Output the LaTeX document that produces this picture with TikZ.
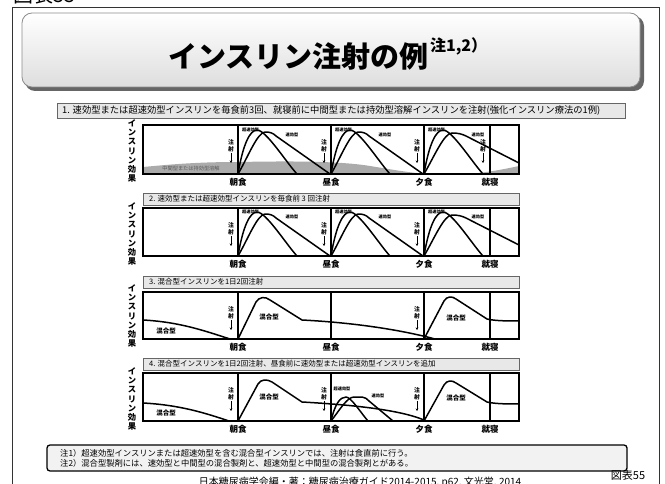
\documentclass[tikz,border=0pt]{standalone}
\usepackage{fontspec}
\setmainfont{Noto Sans CJK JP}
\usetikzlibrary{arrows.meta}
\begin{document}
\begin{tikzpicture}[x=1pt,y=-1pt,
  curve/.style={line width=1.5pt, line join=round, line cap=round},
  mealline/.style={line width=1.5pt},
  bedline/.style={line width=2.8pt},
  graphbox/.style={draw, line width=1.3pt},
  hdrbox/.style={draw=black!60, fill=black!9, line width=0.8pt},
  tinylbl/.style={font=\fontsize{4.2}{5}\selectfont\bfseries, inner sep=0pt},
  injtxt/.style={font=\fontsize{5.8}{6}\selectfont\bfseries, inner sep=0pt},
  mixlbl/.style={font=\fontsize{6.5}{7}\selectfont\bfseries, inner sep=0pt},
  meallbl/.style={font=\fontsize{8.5}{9}\selectfont\bfseries, inner sep=0pt},
  ylbl/.style={font=\fontsize{8.3}{9.2}\selectfont\bfseries, align=center, inner sep=0pt},
  hdrtxt/.style={font=\fontsize{7.5}{8}\selectfont, inner sep=0pt, anchor=west},
]
\useasboundingbox (0,0) rectangle (665,484);

\newcommand\injmark[2]{%
  \node[injtxt] at ({#1},{#2+17}) {注};
  \node[injtxt] at ({#1},{#2+24}) {射};
  \draw[-{Stealth[length=2.5pt,width=2.5pt]}, line width=0.6pt] ({#1},{#2+28}) -- ({#1},{#2+38});
}
\newcommand\ultra[2]{%
  \begin{scope}[shift={(#1,#2)}]
    \draw[curve] (0,0) .. controls (5,-30) and (12,-44) .. (19,-44) .. controls (28,-44) and (48,-12) .. (59,0);
    \node[tinylbl] at (12.5,-44) {超速効型};
    \node[tinylbl] at (54,-39) {速効型};
  \end{scope}}
\newcommand\rapidA[2]{%
  \begin{scope}[shift={(#1,#2)}]
    \draw[curve] (0,0) .. controls (10,-17) and (19,-41) .. (27,-42) .. controls (32,-42) and (35,-41) .. (38,-38) -- (92,0);
  \end{scope}}
\newcommand\rapidE[2]{%
  \begin{scope}[shift={(#1,#2)}]
    \draw[curve] (0,0) .. controls (10,-17) and (20,-41) .. (28,-41) .. controls (34,-41) and (38,-40) .. (42,-38) -- (95,-11);
  \end{scope}}
\newcommand\meals[4]{% top, bottom, unused, label y
  \draw[mealline] (238,#1) -- (238,#2);
  \draw[mealline] (331,#1) -- (331,#2);
  \draw[mealline] (424,#1) -- (424,#2);
  \draw[bedline] (490,#1) -- (490,#2);
  \node[meallbl] (m1) at (238,#4) {朝食};
  \node[meallbl] (m2) at (331,#4) {昼食};
  \node[meallbl] (m3) at (424,#4) {夕食};
  \node[meallbl] (m4) at (490,#4) {就寝};
}
\newcommand\ylabel[2]{\node[ylbl] at (#1,#2) {イ\\ン\\ス\\リ\\ン\\効\\果};}

% top-left cut label
\node[anchor=base west, inner sep=0pt, font=\fontsize{20}{20}\selectfont] (fig0) at (13,3) {図表55};

% outer frame
\draw[line width=1pt, black!80] (12,8) rectangle (659,500);

% title box
\fill[black!60, rounded corners=10pt] (25,16) rectangle (644,91);
\shade[top color=white, bottom color=black!13, draw=black!45, line width=0.8pt, rounded corners=10pt] (22,13) rectangle (640,87);
\node[font=\fontsize{29}{31}\selectfont\bfseries, inner sep=0pt, anchor=west] (title) at (168,56) {インスリン注射の例};
\node[font=\fontsize{16}{17}\selectfont\bfseries, inner sep=0pt, anchor=west] (titlesup) at ([xshift=1pt]title.east|-0,46) {注1,2）};

% ---------------- panel 1
\draw[hdrbox] (57,103) rectangle (625,118);
\node[hdrtxt, font=\fontsize{9.3}{10}\selectfont] (h1) at (62,110.5) {1. 速効型または超速効型インスリンを毎食前3回、就寝前に中間型または持効型溶解インスリンを注射(強化インスリン療法の1例)};
\fill[black!33] (143,174) -- (143,167) .. controls (175,164) and (200,162) .. (238,162) .. controls (290,161) and (340,161) .. (370,166) .. controls (395,170) and (410,173) .. (430,174) -- cycle;
\fill[black!33] (470,174) .. controls (490,172) and (505,169) .. (519,166) -- (519,174) -- cycle;
\node[font=\fontsize{5.2}{6}\selectfont, text=black!65, inner sep=0pt] (basal) at (191,169) {中間型または持効型溶解};
\ultra{238}{174}\rapidA{238}{174}
\ultra{331}{174}\rapidA{331}{174}
\ultra{424}{174}\rapidE{424}{174}
\meals{125}{174}{}{182}
\injmark{231}{125}\injmark{324}{125}\injmark{417}{125}\injmark{483}{125}
\draw[graphbox] (143,125) rectangle (519,174);
\ylabel{132}{151}

% ---------------- panel 2
\draw[hdrbox] (143,193) rectangle (519,205);
\node[hdrtxt] (h2) at (149,199) {2. 速効型または超速効型インスリンを毎食前 3 回注射};
\ultra{238}{256}\rapidA{238}{256}
\ultra{331}{256}\rapidA{331}{256}
\ultra{424}{256}\rapidE{424}{256}
\meals{208}{256}{}{264}
\injmark{231}{208}\injmark{324}{208}\injmark{417}{208}
\draw[graphbox] (143,208) rectangle (519,256);
\ylabel{132}{234}

% ---------------- panel 3
\draw[hdrbox] (143,276) rectangle (519,288);
\node[hdrtxt] (h3) at (149,282) {3. 混合型インスリンを1日2回注射};
\draw[curve] (143,320) .. controls (180,322) and (205,331) .. (230,339);
\draw[curve] (238,339) -- (256,302) .. controls (259,297) and (265,296) .. (270,300) -- (302,320) .. controls (360,323) and (405,331) .. (435,339);
\draw[curve] (424,339) -- (444,301) .. controls (447,296) and (452,296) .. (456,299) -- (487,319) .. controls (495,321) and (510,321) .. (519,321);
\node[mixlbl] at (166,331) {混合型};
\node[mixlbl] at (269,317) {混合型};
\node[mixlbl] at (456,318) {混合型};
\meals{292}{339}{}{347}
\injmark{231}{292}\injmark{417}{292}
\draw[graphbox] (143,292) rectangle (519,339);
\ylabel{132}{316}

% ---------------- panel 4
\draw[hdrbox] (143,358) rectangle (519,370);
\node[hdrtxt] (h4) at (149,364) {4. 混合型インスリンを1日2回注射、昼食前に速効型または超速効型インスリンを追加};
\draw[curve] (143,403) .. controls (180,405) and (205,413) .. (229,421);
\draw[curve] (238,421) -- (258,384) .. controls (261,379) and (267,379) .. (272,382) -- (302,402) .. controls (355,405) and (400,410) .. (424,420);
\draw[curve] (424,421) -- (444,385) .. controls (447,380) and (452,380) .. (456,383) -- (487,402) .. controls (495,404) and (510,404) .. (519,404);
\begin{scope}[shift={(331,421)}]
  \draw[curve] (0,0) .. controls (4,-17) and (9,-24) .. (15,-24) .. controls (20,-24) and (30,-8) .. (37,0);
  \draw[curve] (0,0) .. controls (8,-10) and (16,-24) .. (23,-24) -- (31,-24) .. controls (34,-24) and (36,-22) .. (38,-20) -- (62,0);
\end{scope}
\node[tinylbl] at (342,389) {超速効型};
\node[tinylbl] at (378,396) {速効型};
\node[mixlbl] at (166,413) {混合型};
\node[mixlbl] at (269,397) {混合型};
\node[mixlbl] at (456,398) {混合型};
\meals{373}{421}{}{429}
\injmark{231}{373}\injmark{324}{373}\injmark{417}{373}
\draw[graphbox] (143,373) rectangle (519,421);
\ylabel{132}{399}

% ---------------- notes
\draw[line width=1.3pt, fill=black!5, rounded corners=3pt] (47,445) rectangle (627,471);
\node[anchor=west, inner sep=0pt, font=\fontsize{8.3}{9}\selectfont] (n1) at (60,453) {注1）超速効型インスリンまたは超速効型を含む混合型インスリンでは、注射は食直前に行う。};
\node[anchor=west, inner sep=0pt, font=\fontsize{8.3}{9}\selectfont] (n2) at (60,463) {注2）混合型製剤には、速効型と中間型の混合製剤と、超速効型と中間型の混合製剤とがある。};
\node[inner sep=0pt, font=\fontsize{11}{12}\selectfont] (fig55) at (628,475) {図表55};
\node[inner sep=0pt, font=\fontsize{10}{11}\selectfont] (cite) at (360,482) {日本糖尿病学会編・著：糖尿病治療ガイド2014-2015, p62, 文光堂, 2014};
\end{tikzpicture}
\end{document}
